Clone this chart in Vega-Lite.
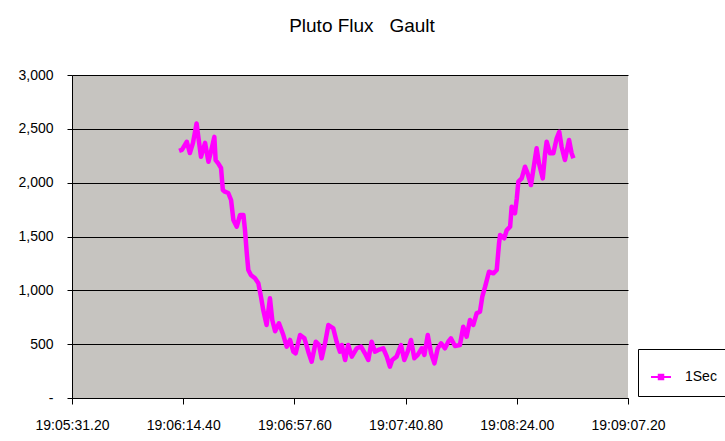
{
  "$schema": "https://vega.github.io/schema/vega-lite/v6.json",
  "width": 556,
  "height": 323,
  "autosize": "none",
  "padding": {"left": 72, "top": 75, "right": 97, "bottom": 43},
  "background": "white",
  "title": {
    "text": "Pluto Flux\u00a0\u00a0\u00a0Gault",
    "fontSize": 19,
    "font": "Liberation Sans",
    "fontWeight": "normal",
    "color": "black",
    "anchor": "middle",
    "dx": 12,
    "baseline": "alphabetic",
    "offset": 17
  },
  "config": {
    "font": "Liberation Sans",
    "view": {
      "stroke": null,
      "fill": "#c6c4c0"
    }
  },
  "data": {
    "values": [
      {"sec": 372.8, "flux": 2295, "series": "1Sec"},
      {"sec": 373.9, "flux": 2305, "series": "1Sec"},
      {"sec": 375.8, "flux": 2380, "series": "1Sec"},
      {"sec": 377.0, "flux": 2275, "series": "1Sec"},
      {"sec": 378.2, "flux": 2370, "series": "1Sec"},
      {"sec": 379.6, "flux": 2550, "series": "1Sec"},
      {"sec": 381.3, "flux": 2240, "series": "1Sec"},
      {"sec": 382.9, "flux": 2370, "series": "1Sec"},
      {"sec": 384.2, "flux": 2195, "series": "1Sec"},
      {"sec": 385.3, "flux": 2300, "series": "1Sec"},
      {"sec": 386.5, "flux": 2425, "series": "1Sec"},
      {"sec": 387.0, "flux": 2210, "series": "1Sec"},
      {"sec": 388.0, "flux": 2180, "series": "1Sec"},
      {"sec": 389.1, "flux": 2136, "series": "1Sec"},
      {"sec": 389.8, "flux": 1932, "series": "1Sec"},
      {"sec": 390.6, "flux": 1916, "series": "1Sec"},
      {"sec": 391.9, "flux": 1904, "series": "1Sec"},
      {"sec": 393.0, "flux": 1839, "series": "1Sec"},
      {"sec": 393.9, "flux": 1653, "series": "1Sec"},
      {"sec": 395.2, "flux": 1591, "series": "1Sec"},
      {"sec": 396.5, "flux": 1700, "series": "1Sec"},
      {"sec": 397.8, "flux": 1700, "series": "1Sec"},
      {"sec": 398.4, "flux": 1560, "series": "1Sec"},
      {"sec": 399.1, "flux": 1344, "series": "1Sec"},
      {"sec": 399.7, "flux": 1189, "series": "1Sec"},
      {"sec": 400.7, "flux": 1142, "series": "1Sec"},
      {"sec": 402.3, "flux": 1112, "series": "1Sec"},
      {"sec": 403.6, "flux": 1065, "series": "1Sec"},
      {"sec": 404.6, "flux": 941, "series": "1Sec"},
      {"sec": 405.5, "flux": 817, "series": "1Sec"},
      {"sec": 406.8, "flux": 678, "series": "1Sec"},
      {"sec": 408.1, "flux": 926, "series": "1Sec"},
      {"sec": 409.0, "flux": 724, "series": "1Sec"},
      {"sec": 410.1, "flux": 620, "series": "1Sec"},
      {"sec": 411.6, "flux": 694, "series": "1Sec"},
      {"sec": 413.3, "flux": 585, "series": "1Sec"},
      {"sec": 414.6, "flux": 477, "series": "1Sec"},
      {"sec": 415.9, "flux": 539, "series": "1Sec"},
      {"sec": 417.2, "flux": 430, "series": "1Sec"},
      {"sec": 418.1, "flux": 415, "series": "1Sec"},
      {"sec": 419.8, "flux": 585, "series": "1Sec"},
      {"sec": 421.5, "flux": 554, "series": "1Sec"},
      {"sec": 423.0, "flux": 430, "series": "1Sec"},
      {"sec": 424.3, "flux": 337, "series": "1Sec"},
      {"sec": 425.9, "flux": 523, "series": "1Sec"},
      {"sec": 427.2, "flux": 492, "series": "1Sec"},
      {"sec": 428.2, "flux": 369, "series": "1Sec"},
      {"sec": 429.5, "flux": 508, "series": "1Sec"},
      {"sec": 430.8, "flux": 678, "series": "1Sec"},
      {"sec": 432.7, "flux": 647, "series": "1Sec"},
      {"sec": 434.0, "flux": 523, "series": "1Sec"},
      {"sec": 435.3, "flux": 430, "series": "1Sec"},
      {"sec": 436.0, "flux": 492, "series": "1Sec"},
      {"sec": 437.3, "flux": 353, "series": "1Sec"},
      {"sec": 438.5, "flux": 492, "series": "1Sec"},
      {"sec": 439.9, "flux": 384, "series": "1Sec"},
      {"sec": 441.8, "flux": 462, "series": "1Sec"},
      {"sec": 443.5, "flux": 477, "series": "1Sec"},
      {"sec": 445.0, "flux": 415, "series": "1Sec"},
      {"sec": 446.3, "flux": 353, "series": "1Sec"},
      {"sec": 447.6, "flux": 523, "series": "1Sec"},
      {"sec": 448.9, "flux": 430, "series": "1Sec"},
      {"sec": 450.2, "flux": 446, "series": "1Sec"},
      {"sec": 452.1, "flux": 462, "series": "1Sec"},
      {"sec": 453.5, "flux": 384, "series": "1Sec"},
      {"sec": 454.7, "flux": 291, "series": "1Sec"},
      {"sec": 455.6, "flux": 353, "series": "1Sec"},
      {"sec": 457.3, "flux": 384, "series": "1Sec"},
      {"sec": 459.0, "flux": 492, "series": "1Sec"},
      {"sec": 460.3, "flux": 353, "series": "1Sec"},
      {"sec": 461.6, "flux": 430, "series": "1Sec"},
      {"sec": 462.9, "flux": 539, "series": "1Sec"},
      {"sec": 464.2, "flux": 369, "series": "1Sec"},
      {"sec": 465.5, "flux": 400, "series": "1Sec"},
      {"sec": 467.1, "flux": 462, "series": "1Sec"},
      {"sec": 468.1, "flux": 400, "series": "1Sec"},
      {"sec": 469.4, "flux": 585, "series": "1Sec"},
      {"sec": 470.7, "flux": 415, "series": "1Sec"},
      {"sec": 472.0, "flux": 322, "series": "1Sec"},
      {"sec": 473.3, "flux": 462, "series": "1Sec"},
      {"sec": 474.6, "flux": 508, "series": "1Sec"},
      {"sec": 476.1, "flux": 462, "series": "1Sec"},
      {"sec": 477.4, "flux": 523, "series": "1Sec"},
      {"sec": 478.4, "flux": 554, "series": "1Sec"},
      {"sec": 480.0, "flux": 483, "series": "1Sec"},
      {"sec": 481.9, "flux": 492, "series": "1Sec"},
      {"sec": 483.2, "flux": 662, "series": "1Sec"},
      {"sec": 484.5, "flux": 569, "series": "1Sec"},
      {"sec": 485.8, "flux": 724, "series": "1Sec"},
      {"sec": 487.1, "flux": 678, "series": "1Sec"},
      {"sec": 488.4, "flux": 787, "series": "1Sec"},
      {"sec": 489.7, "flux": 802, "series": "1Sec"},
      {"sec": 490.6, "flux": 941, "series": "1Sec"},
      {"sec": 491.7, "flux": 1034, "series": "1Sec"},
      {"sec": 493.2, "flux": 1173, "series": "1Sec"},
      {"sec": 494.9, "flux": 1158, "series": "1Sec"},
      {"sec": 496.2, "flux": 1189, "series": "1Sec"},
      {"sec": 497.1, "flux": 1437, "series": "1Sec"},
      {"sec": 497.5, "flux": 1514, "series": "1Sec"},
      {"sec": 499.1, "flux": 1483, "series": "1Sec"},
      {"sec": 500.1, "flux": 1560, "series": "1Sec"},
      {"sec": 501.4, "flux": 1591, "series": "1Sec"},
      {"sec": 502.0, "flux": 1777, "series": "1Sec"},
      {"sec": 503.3, "flux": 1715, "series": "1Sec"},
      {"sec": 504.0, "flux": 1855, "series": "1Sec"},
      {"sec": 504.6, "flux": 2009, "series": "1Sec"},
      {"sec": 505.9, "flux": 2040, "series": "1Sec"},
      {"sec": 507.2, "flux": 2148, "series": "1Sec"},
      {"sec": 508.2, "flux": 2087, "series": "1Sec"},
      {"sec": 509.5, "flux": 1978, "series": "1Sec"},
      {"sec": 510.8, "flux": 2180, "series": "1Sec"},
      {"sec": 511.7, "flux": 2319, "series": "1Sec"},
      {"sec": 512.6, "flux": 2180, "series": "1Sec"},
      {"sec": 514.1, "flux": 2040, "series": "1Sec"},
      {"sec": 515.0, "flux": 2273, "series": "1Sec"},
      {"sec": 515.6, "flux": 2381, "series": "1Sec"},
      {"sec": 516.9, "flux": 2273, "series": "1Sec"},
      {"sec": 518.2, "flux": 2273, "series": "1Sec"},
      {"sec": 519.5, "flux": 2412, "series": "1Sec"},
      {"sec": 520.5, "flux": 2473, "series": "1Sec"},
      {"sec": 521.4, "flux": 2334, "series": "1Sec"},
      {"sec": 522.7, "flux": 2211, "series": "1Sec"},
      {"sec": 524.3, "flux": 2396, "series": "1Sec"},
      {"sec": 525.3, "flux": 2273, "series": "1Sec"},
      {"sec": 526.0, "flux": 2226, "series": "1Sec"}
    ]
  },
  "mark": {"type": "line", "strokeWidth": 4.5, "strokeJoin": "round", "strokeCap": "butt"},
  "encoding": {
    "x": {
      "field": "sec",
      "type": "quantitative",
      "scale": {"domain": [331.2, 547.2], "nice": false, "zero": false},
      "axis": {
        "title": null,
        "grid": false,
        "values": [331.2, 374.4, 417.6, 460.8, 504, 547.2],
        "labelExpr": "'19:0' + floor(datum.value/60) + ':' + (datum.value % 60 < 10 ? '0' : '') + format(datum.value % 60, '.2f')",
        "labelFontSize": 14,
        "labelColor": "black",
        "labelPadding": 14,
        "labelFlush": false,
        "labelOverlap": false,
        "tickSize": 6,
        "tickColor": "black",
        "domainColor": "black",
        "labelFont": "Liberation Sans"
      }
    },
    "y": {
      "field": "flux",
      "type": "quantitative",
      "scale": {"domain": [0, 3000], "nice": false},
      "axis": {
        "title": null,
        "values": [0, 500, 1000, 1500, 2000, 2500, 3000],
        "labelExpr": "datum.value == 0 ? '-\u00a0\u00a0\u00a0\u00a0\u00a0' : format(datum.value, ',')",
        "labelFontSize": 14,
        "labelColor": "black",
        "labelPadding": 14,
        "tickSize": 5,
        "tickColor": "black",
        "domainColor": "black",
        "grid": true,
        "gridColor": "black",
        "gridOpacity": 1,
        "gridWidth": 1,
        "labelFont": "Liberation Sans"
      }
    },
    "color": {
      "field": "series",
      "type": "nominal",
      "scale": {"range": ["#ff00ff"]},
      "legend": {
        "title": null,
        "orient": "none",
        "legendX": 566,
        "legendY": 274,
        "fillColor": "white",
        "strokeColor": "black",
        "cornerRadius": 0,
        "padding": 12,
        "symbolType": "M-1,0H0.333M-0.483,-0.15H-0.183V0.15H-0.483Z",
        "symbolSize": 900,
        "symbolStrokeWidth": 2,
        "symbolFillColor": "#ff00ff",
        "symbolStrokeColor": "#ff00ff",
        "labelFontSize": 14,
        "labelColor": "black",
        "labelOffset": 3,
        "labelFont": "Liberation Sans"
      }
    }
  }
}
